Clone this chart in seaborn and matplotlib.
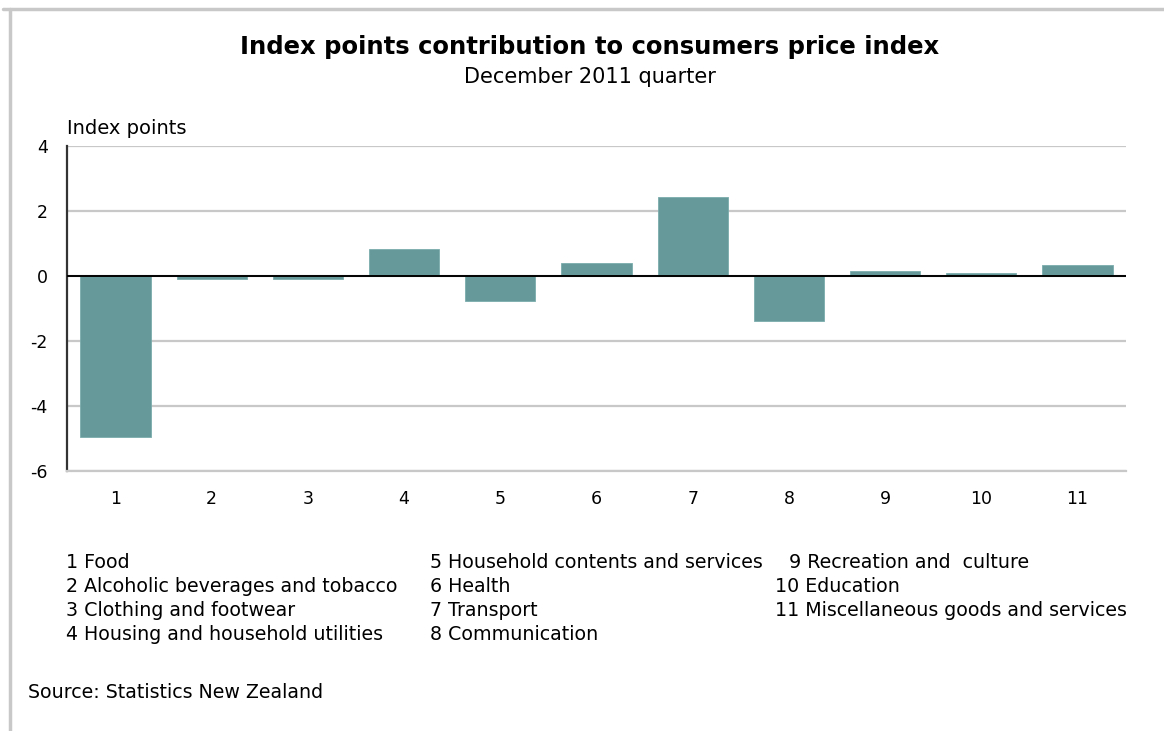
import matplotlib
matplotlib.use("Agg")
import matplotlib.pyplot as plt
import seaborn as sns
import pandas as pd
from matplotlib.lines import Line2D

categories = ["1", "2", "3", "4", "5", "6", "7", "8", "9", "10", "11"]
values = [-4.96, -0.10, -0.10, 0.81, -0.79, 0.38, 2.41, -1.40, 0.14, 0.07, 0.32]
yticks = [-6, -4, -2, 0, 2, 4]
legend_col1 = ["1 Food", "2 Alcoholic beverages and tobacco",
               "3 Clothing and footwear", "4 Housing and household utilities"]
legend_col2 = ["5 Household contents and services", "6 Health",
               "7 Transport", "8 Communication"]
legend_col3 = ["9 Recreation and  culture", "10 Education",
               "11 Miscellaneous goods and services"]

sns.set_theme(style="white")
plt.rcParams["font.family"] = ["DejaVu Sans"]
plt.rcParams["text.color"] = "black"
plt.rcParams["xtick.color"] = "black"
plt.rcParams["ytick.color"] = "black"

W, H = 1164, 731
fig = plt.figure(figsize=(W / 100, H / 100), dpi=100)
fig.patch.set_facecolor("white")

def fx(px):
    return px / W

def fy(py):
    return 1 - py / H

ax = fig.add_axes([fx(67.3), fy(470.7), fx(1125.7) - fx(67.3), fy(145.7) - fy(470.7)])

df = pd.DataFrame({"cat": categories, "val": values})
sns.barplot(data=df, x="cat", y="val", color="#669999", saturation=1,
            width=0.73, ax=ax, edgecolor="#7aabab", linewidth=0.6)

ax.set_ylim(-6, 4)
ax.set_xlim(-0.5, len(categories) - 0.5)
ax.set_yticks(yticks)
ax.set_yticklabels([str(t) for t in yticks], fontsize=12.5)
ax.tick_params(axis="x", labelsize=12.5, pad=14, length=0, colors="black")
ax.tick_params(axis="y", pad=14, length=0, colors="black")
ax.set_xlabel("")
ax.set_ylabel("")
ax.grid(axis="y", color="#c8c8c8", linewidth=1.6)
ax.set_axisbelow(True)
ax.axhline(0, color="black", linewidth=1.4, zorder=3)
for s in ["top", "right"]:
    ax.spines[s].set_visible(False)
ax.spines["bottom"].set_color("#c8c8c8")
ax.spines["bottom"].set_linewidth(1.6)
ax.spines["left"].set_color("#333333")
ax.spines["left"].set_linewidth(1.6)

fig.text(fx(590), fy(47), "Index points contribution to consumers price index",
         ha="center", va="center", fontsize=17.5, fontweight="bold")
fig.text(fx(590), fy(77), "December 2011 quarter", ha="center", va="center", fontsize=15)
fig.text(fx(67), fy(128), "Index points", ha="left", va="center", fontsize=14)

rows = [562, 586, 610, 635]
fs = 13.7
for i, t in enumerate(legend_col1):
    fig.text(fx(66), fy(rows[i]), t, ha="left", va="center", fontsize=fs)
for i, t in enumerate(legend_col2):
    fig.text(fx(430), fy(rows[i]), t, ha="left", va="center", fontsize=fs)
col3_x = [789, 775, 775]
for i, t in enumerate(legend_col3):
    fig.text(fx(col3_x[i]), fy(rows[i]), t, ha="left", va="center", fontsize=fs)

fig.text(fx(28), fy(692), "Source: Statistics New Zealand", ha="left", va="center", fontsize=fs)

fig.add_artist(Line2D([fx(3), 1], [fy(8.5), fy(8.5)], color="#c8c8c8", linewidth=2.5,
                      transform=fig.transFigure))
fig.add_artist(Line2D([fx(9.5), fx(9.5)], [fy(8.5), 0], color="#c8c8c8", linewidth=2.5,
                      transform=fig.transFigure))

fig.savefig("out.png", dpi=100, facecolor="white")
